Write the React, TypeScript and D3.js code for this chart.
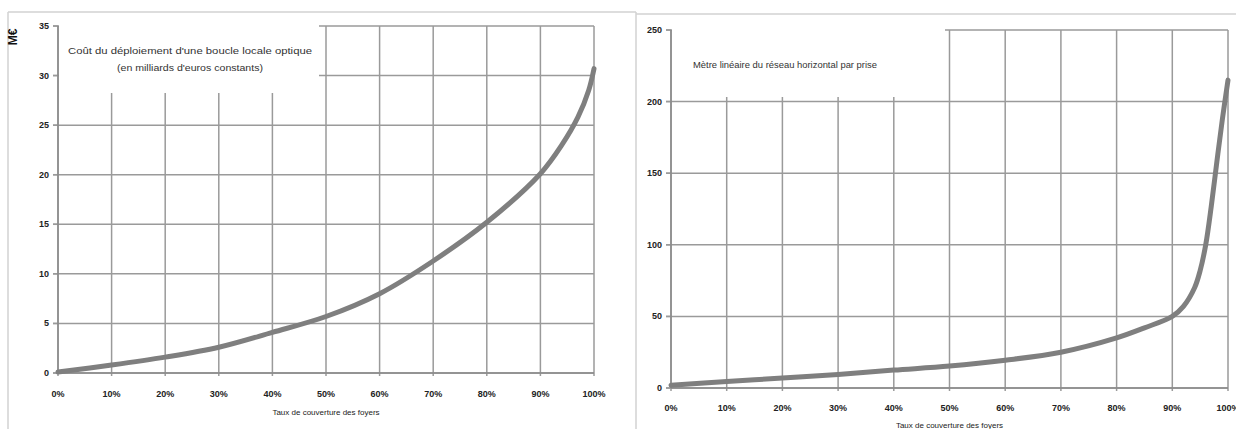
import React from "react";
import * as d3 from "d3";

const xTicks = [0, 10, 20, 30, 40, 50, 60, 70, 80, 90, 100];
const costTicks = [0, 5, 10, 15, 20, 25, 30, 35];
const lengthTicks = [0, 50, 100, 150, 200, 250];

const costX = [0, 10, 20, 30, 40, 50, 60, 70, 80, 90, 94, 97, 99, 100];
const costY = [0.1, 0.8, 1.6, 2.6, 4.1, 5.7, 8.0, 11.3, 15.2, 20.1, 23.0, 25.8, 28.5, 30.7];

const lenX = [0, 10, 20, 30, 40, 50, 60, 70, 80, 85, 90, 92, 94, 95, 96, 97, 98, 99, 100];
const lenY = [2, 4.5, 7, 9.5, 12.5, 15.3, 19.4, 25, 35, 42, 50, 57, 70, 82, 100, 127, 158, 188, 215];

const leftTitle = ["Coût du déploiement d'une boucle locale optique", "(en milliards d'euros constants)"];
const rightTitle = "Mètre linéaire du réseau horizontal par prise";
const xTitle = "Taux de couverture des foyers";

const GRID = "#9a9a9a";
const CURVE = "#7f7f7f";
const FONT = "'Liberation Sans', Arial, sans-serif";

type PanelProps = {
  xr: [number, number];
  yr: [number, number];
  yMax: number;
  yTicks: number[];
  xs: number[];
  ys: number[];
  box: [number, number, number, number];
  titleLines: { text: string; x: number; y: number; w: number }[];
  xLabelY: number;
  xTitleY: number;
};

function Panel(p: PanelProps) {
  const x = d3.scaleLinear().domain([0, 100]).range(p.xr);
  const y = d3.scaleLinear().domain([0, p.yMax]).range(p.yr);
  const pts = p.xs.map((v, i) => [v, p.ys[i]] as [number, number]);
  const line = d3
    .line<[number, number]>()
    .x((d) => x(d[0]))
    .y((d) => y(d[1]))
    .curve(d3.curveCatmullRom.alpha(0.5));
  const [bx0, by0, bx1, by1] = p.box;
  return (
    <g>
      {p.yTicks.map((t) => (
        <line key={"h" + t} x1={x(0) - 5} x2={x(100)} y1={y(t)} y2={y(t)} stroke={GRID} strokeWidth={1.5} />
      ))}
      {xTicks.map((t) => (
        <line key={"v" + t} x1={x(t)} x2={x(t)} y1={y(p.yMax)} y2={y(0) + 3} stroke={GRID} strokeWidth={1.5} />
      ))}
      <rect x={bx0} y={by0} width={bx1 - bx0} height={by1 - by0} fill="white" />
      {p.yTicks.map((t) => (
        <line key={"tk" + t} x1={x(0) - 5} x2={x(0)} y1={y(t)} y2={y(t)} stroke={GRID} strokeWidth={1.5} />
      ))}
      <line x1={x(0)} x2={x(0)} y1={y(p.yMax)} y2={y(0)} stroke="#8a8a8a" strokeWidth={1.5} />
      <line x1={x(0)} x2={x(100)} y1={y(0)} y2={y(0)} stroke="#8a8a8a" strokeWidth={1.5} />
      {p.yTicks.map((t) => (
        <text key={"yl" + t} x={x(0) - 9} y={y(t) + 3} textAnchor="end" fontSize={9} fontWeight="bold" fill="#222" fontFamily={FONT}>
          {t}
        </text>
      ))}
      {xTicks.map((t) => (
        <text key={"xl" + t} x={x(t)} y={p.xLabelY} textAnchor="middle" fontSize={9} fontWeight="bold" fill="#222" fontFamily={FONT}>
          {t + "%"}
        </text>
      ))}
      <text x={x(50)} y={p.xTitleY} textAnchor="middle" fontSize={8} fill="#222" fontFamily={FONT}>
        {xTitle}
      </text>
      {p.titleLines.map((l, i) => (
        <text
          key={"t" + i}
          x={l.x}
          y={l.y}
          textAnchor="middle"
          fontSize={9}
          fill="#333"
          fontFamily={FONT}
          textLength={l.w}
          lengthAdjust="spacingAndGlyphs"
        >
          {l.text}
        </text>
      ))}
      <path d={line(pts) || ""} fill="none" stroke={CURVE} strokeWidth={5} strokeLinecap="round" />
    </g>
  );
}

export default function App() {
  return (
    <svg
      width={1236}
      height={429}
      style={{ position: "absolute", left: 0, top: 0, background: "white" }}
    >
      <rect x={0} y={0} width={1236} height={429} fill="white" />
      <line x1={8} x2={636} y1={12} y2={12} stroke="#d2d2d2" strokeWidth={1.5} />
      <line x1={8} x2={8} y1={12} y2={429} stroke="#d2d2d2" strokeWidth={1.5} />
      <line x1={636} x2={636} y1={12} y2={429} stroke="#d2d2d2" strokeWidth={1.5} />
      <line x1={636} x2={1236} y1={14} y2={14} stroke="#d2d2d2" strokeWidth={1.5} />

      <Panel
        xr={[58, 594]}
        yr={[373, 26]}
        yMax={35}
        yTicks={costTicks}
        xs={costX}
        ys={costY}
        box={[59, 18, 319, 93]}
        titleLines={[
          { text: leftTitle[0], x: 190, y: 54, w: 244 },
          { text: leftTitle[1], x: 190, y: 71, w: 146 },
        ]}
        xLabelY={397}
        xTitleY={415}
      />
      <text
        transform="translate(17,37) rotate(-90)"
        textAnchor="middle"
        fontSize={12}
        fontWeight="bold"
        fill="#111"
        fontFamily={FONT}
      >
        M€
      </text>

      <Panel
        xr={[671, 1228]}
        yr={[388, 30]}
        yMax={250}
        yTicks={lengthTicks}
        xs={lenX}
        ys={lenY}
        box={[672, 24, 945, 97]}
        titleLines={[{ text: rightTitle, x: 785, y: 68, w: 184 }]}
        xLabelY={411}
        xTitleY={428}
      />
    </svg>
  );
}
